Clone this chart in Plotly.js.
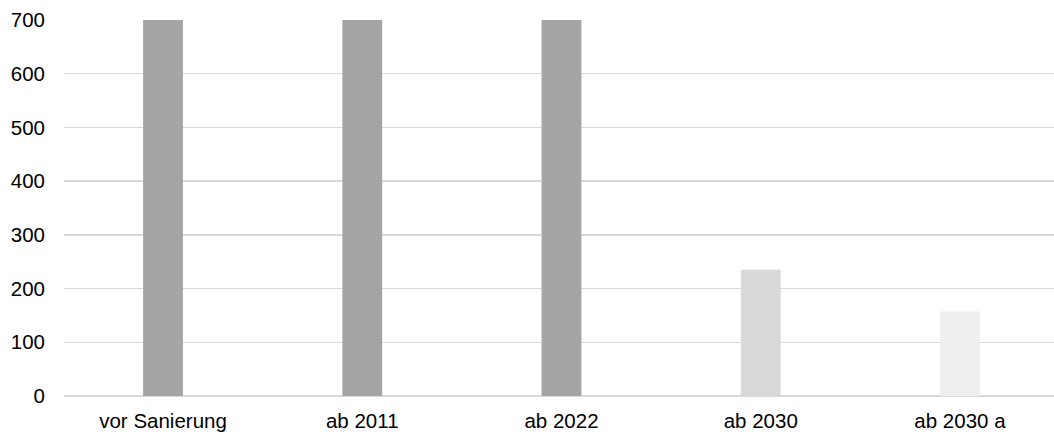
<!DOCTYPE html>
<html>
<head>
<meta charset="utf-8">
<script src="https://cdn.plot.ly/plotly-3.0.1.min.js"></script>
<style>html,body{margin:0;padding:0;background:#fff;}#chart{width:1054px;height:432px;}</style>
</head>
<body>
<div id="chart"></div>
<script>
const categories = ["vor Sanierung", "ab 2011", "ab 2022", "ab 2030", "ab 2030 a"];
const values = [700, 700, 700, 235, 158];
const barColors = ["#a5a5a5", "#a5a5a5", "#a5a5a5", "#d9d9d9", "#efefef"];
const yTicks = [0, 100, 200, 300, 400, 500, 600, 700];

const trace = {
  type: "bar",
  x: categories,
  y: values,
  marker: { color: barColors, line: { width: 0 } },
  hoverinfo: "x+y"
};

const layout = {
  width: 1054,
  height: 432,
  margin: { l: 64, r: 0, t: 20, b: 36, pad: 0 },
  paper_bgcolor: "#ffffff",
  plot_bgcolor: "#ffffff",
  bargap: 0.8,
  showlegend: false,
  font: { family: "Liberation Sans, Arial, sans-serif", size: 20.5, color: "#000000" },
  xaxis: {
    type: "category",
    range: [-0.497, 4.472],
    showgrid: false,
    showline: false,
    zeroline: false,
    ticks: "",
    ticklabelstandoff: 10,
    tickfont: { size: 20.5, color: "#000000" }
  },
  yaxis: {
    range: [0, 700],
    tickvals: yTicks,
    ticktext: yTicks.map(String),
    showgrid: true,
    gridcolor: "#d9d9d9",
    gridwidth: 1.3,
    zeroline: true,
    zerolinecolor: "#d9d9d9",
    zerolinewidth: 1.3,
    showline: false,
    ticks: "",
    ticklabelstandoff: 18,
    tickfont: { size: 20.5, color: "#000000" }
  }
};

Plotly.newPlot("chart", [trace], layout, { displayModeBar: false, staticPlot: true });
</script>
</body>
</html>
